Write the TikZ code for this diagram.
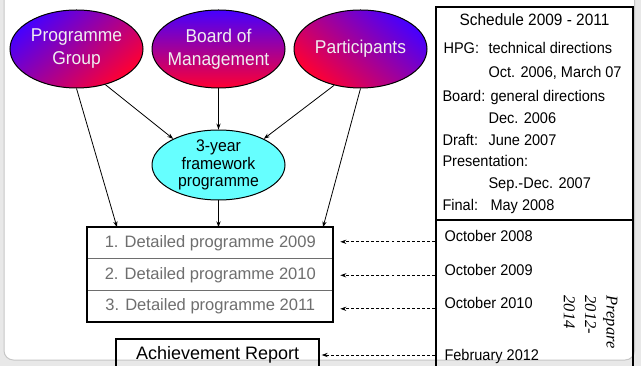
\documentclass[tikz,border=0pt]{standalone}
\usepackage{fontspec}
\setmainfont{Liberation Sans}
\newfontfamily\narrowsf{Liberation Sans}[FakeStretch=0.94]
\newfontfamily\prepserif{Liberation Serif}
\usetikzlibrary{shapes.geometric,arrows.meta,calc}

\definecolor{partyblue}{RGB}{70,0,255}
\definecolor{partyred}{RGB}{255,0,50}
\definecolor{frameworkcyan}{RGB}{102,255,255}
\definecolor{rowgray}{RGB}{110,110,110}

\tikzset{every picture/.style={line width=0.75pt}}
\tikzset{
  party/.style={ellipse, draw, top color=partyblue, bottom color=partyred, shading angle=#1, minimum width=99.75pt, minimum height=58.5pt, inner xsep=-8pt, inner ysep=0pt, align=center, text=white!94!black, font=\narrowsf\fontsize{13.9}{17.25}\selectfont},
  party/.default=0,
  framework/.style={ellipse, draw, fill=frameworkcyan, minimum width=99.75pt, minimum height=52.5pt, inner xsep=0pt, inner ysep=-3pt, align=center, font=\narrowsf\fontsize{12.6}{13.1}\selectfont},
  detrow/.style={draw=rowgray, minimum width=184.5pt, minimum height=23.75pt, inner sep=0pt, outer sep=0pt, text=rowgray, font=\fontsize{12.4}{14}\selectfont},
  thickbox/.style={draw, line width=1.5pt, inner sep=0pt},
  sched/.style={anchor=base west, inner sep=0pt, font=\narrowsf\fontsize{11.6}{13}\selectfont},
  conn/.style={-{Stealth[length=4.5pt,width=3.2pt]}, line width=0.6pt},
  dashconn/.style={conn, dash pattern=on 2.2pt off 1.6pt}
}

\begin{document}
\begin{tikzpicture}[x=0.75pt,y=0.75pt,yscale=-1,xscale=1]
\useasboundingbox (0,0) rectangle (641,366);

%Shape: Background frame
\fill[gray!18] (0,0) rectangle (641,366);
\draw[gray!45, fill=white, rounded corners=7pt] (4,-20) rectangle (634.5,360);

%Shape: Ellipses
\node[party=40] (pg) at (76.5,49) {Programme\\Group};
\node[party] (bm) at (218.5,49) {Board of\\Management};
\node[party=-40] (pa) at (360.5,49) {Participants};
\node[framework] (fw) at (218.5,165) {3-year\\framework\\programme};

%Shape: Detailed programmes
\node[detrow] (dp1) at (210.3,243.1) {1. Detailed programme 2009};
\node[detrow] (dp2) at (210.3,274.8) {2. Detailed programme 2010};
\node[detrow] (dp3) at (210.3,306.5) {3. Detailed programme 2011};
\draw[line width=1.5pt] (dp1.north west) rectangle (dp3.south east);

%Shape: Achievement report
\node[thickbox, minimum width=152.25pt, minimum height=24pt, font=\fontsize{13.5}{15}\selectfont] (ar) at (217.7,355) {Achievement Report};

%Shape: Schedule boxes
\node[thickbox, minimum width=147.75pt, minimum height=159.75pt] (sch) at (534.5,113.5) {};
\node[thickbox, minimum width=147.75pt, minimum height=114pt] (lo) at (534.5,296) {};

% Text Node
\node[sched, anchor=base, font=\narrowsf\fontsize{12.3}{14}\selectfont] (st) at (534.5,25.5) {Schedule 2009 - 2011};
\node[sched] (hpg) at (443,53.5) {HPG:};
\node[sched] (hpgt) at (488,53.5) {technical directions};
\node[sched] (hpgd) at (488,78) {Oct. 2006, March 07};
\node[sched] (brd) at (442,102) {Board:};
\node[sched] (brdt) at (490,102) {general directions};
\node[sched] (brdd) at (488,123.5) {Dec. 2006};
\node[sched] (drf) at (442,145.5) {Draft:};
\node[sched] (drfd) at (488,145.5) {June 2007};
\node[sched] (prs) at (442,166.5) {Presentation:};
\node[sched] (prsd) at (488,188.5) {Sep.-Dec. 2007};
\node[sched] (fin) at (442,210.5) {Final:};
\node[sched] (find) at (490,210.5) {May 2008};

% Text Node
\node[sched] (oc1) at (444,241.8) {October 2008};
\node[sched] (oc2) at (444,275.3) {October 2009};
\node[sched] (oc3) at (444,308.8) {October 2010};
\node[sched] (fb) at (444,360.3) {February 2012};
\node[rotate=-90, anchor=north west, inner sep=0pt, align=left, font=\prepserif\itshape\fontsize{12.4}{16.1}\selectfont] (prep) at (618,295) {Prepare\\2012-\\2014};

%Straight Lines
\draw[conn] (pg.south) -- ($(dp1.north west)+(29.7,0)$);
\draw[conn] (pg.-51) -- (fw.150);
\draw[conn] (bm.south) -- (fw.north);
\draw[conn] (pa.-126) -- (fw.30);
\draw[conn] (pa.south) -- ($(dp1.north east)+(-10.3,0)$);
\draw[conn] (fw.south) -- (fw.south |- dp1.north);

%Dashed Lines
\draw[dashconn] (lo.west |- oc1.base) -- ($(dp1.east |- oc1.base)+(7,0)$);
\draw[dashconn] (lo.west |- oc2.base) -- ($(dp2.east |- oc2.base)+(7,0)$);
\draw[dashconn] (lo.west |- oc3.base) -- ($(dp3.east |- oc3.base)+(7,0)$);
\draw[dashconn] (lo.west |- ar.east) -- ($(ar.east)+(1.5,0)$);

\end{tikzpicture}
\end{document}
